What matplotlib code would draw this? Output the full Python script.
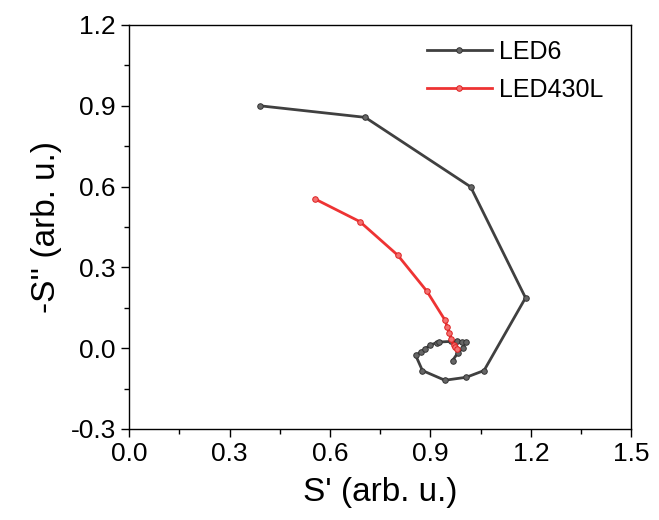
import numpy as np
import matplotlib
matplotlib.use("Agg")
import matplotlib.pyplot as plt
from matplotlib.ticker import MultipleLocator

plt.rcParams['font.family'] = ['Liberation Sans', 'DejaVu Sans']

# LED6 trace (S', -S'')
led6_x = [0.39, 0.705, 1.02, 1.184, 1.06, 1.007, 0.943, 0.876, 0.856, 0.872, 0.884,
          0.90, 0.92, 0.927, 0.96, 0.98, 0.995, 1.005, 0.996, 0.982, 0.966]
led6_y = [0.90, 0.857, 0.599, 0.187, -0.083, -0.108, -0.119, -0.083, -0.027, -0.013, -0.002,
          0.012, 0.021, 0.023, 0.025, 0.026, 0.024, 0.024, -0.001, -0.017, -0.046]

# LED430L trace
led430_x = [0.555, 0.689, 0.8025, 0.889, 0.944, 0.95, 0.956, 0.962, 0.969, 0.973, 0.979]
led430_y = [0.554, 0.470, 0.345, 0.212, 0.103, 0.079, 0.058, 0.035, 0.010, 0.003, -0.004]

fig = plt.figure(figsize=(6.59, 5.2), dpi=100)
ax = fig.add_axes([0.196, 0.175, 0.762, 0.777])

ax.plot(led6_x, led6_y, color='#404040', lw=2, marker='o', ms=4,
        mfc='#666666', mec='#333333', mew=0.7, label='LED6')
ax.plot(led430_x, led430_y, color='#ee3333', lw=2, marker='o', ms=4,
        mfc='#f47070', mec='#dd2222', mew=0.7, label='LED430L')

ax.set_xlim(0, 1.5)
ax.set_ylim(-0.3, 1.2)
ax.xaxis.set_major_locator(MultipleLocator(0.3))
ax.xaxis.set_minor_locator(MultipleLocator(0.15))
ax.yaxis.set_major_locator(MultipleLocator(0.3))
ax.yaxis.set_minor_locator(MultipleLocator(0.15))
ax.xaxis.set_major_formatter(matplotlib.ticker.FormatStrFormatter('%.1f'))
ax.yaxis.set_major_formatter(matplotlib.ticker.FormatStrFormatter('%.1f'))
ax.tick_params(which='both', direction='out', top=False, right=False, labelsize=19)
ax.tick_params(which='major', length=6, width=1)
ax.tick_params(which='minor', length=3.5, width=1)
for s in ax.spines.values():
    s.set_linewidth(1)

ax.set_xlabel("S' (arb. u.)", fontsize=24, labelpad=8)
ax.set_ylabel("-S'' (arb. u.)", fontsize=24, labelpad=6)

ax.legend(loc='upper right', frameon=False, fontsize=18, handlelength=2.6,
          handletextpad=0.3, borderaxespad=0.2, labelspacing=0.55,
          bbox_to_anchor=(0.975, 1.0))

fig.savefig('out.png', dpi=100)
